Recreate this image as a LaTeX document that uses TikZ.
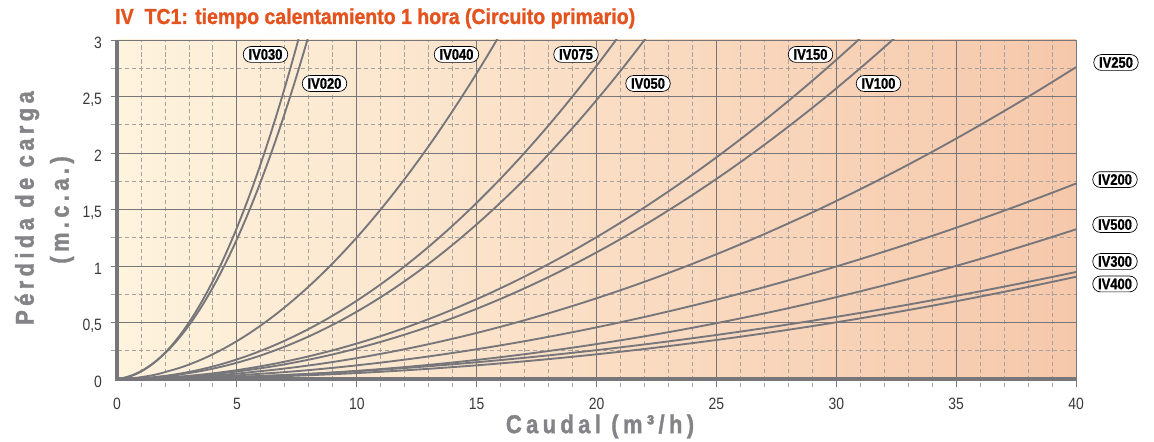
\documentclass[tikz,border=0pt]{standalone}
\usepackage{fontspec}
\setmainfont{Liberation Sans}
\newfontfamily\titlefont[FakeStretch=0.9,FakeBold=1.2]{Liberation Sans Bold}
\newfontfamily\narrowfont[FakeStretch=0.85]{Liberation Sans}
\newfontfamily\tagfont[FakeStretch=0.85,FakeBold=1]{Liberation Sans Bold}
\newfontfamily\spacedfont[FakeStretch=0.85,FakeBold=1.5,LetterSpace=17]{Liberation Sans Bold}

\definecolor{titleorange}{HTML}{E4531D}
\definecolor{axisgrey}{HTML}{77767B}
\definecolor{gridgrey}{HTML}{A8A19E}
\definecolor{labelgrey}{HTML}{848387}
\definecolor{tickgrey}{HTML}{3A3A3A}
\definecolor{creamleft}{HTML}{FEF3DD}
\definecolor{peachright}{HTML}{F6C8AB}

\tikzset{
  gridminor/.style={gridgrey, line width=0.7pt, dash pattern=on 3.5pt off 2.5pt},
  gridmajor/.style={axisgrey, line width=0.8pt},
  axisline/.style={axisgrey, line width=4pt, line join=miter},
  curve/.style={axisgrey, line width=1.6pt},
  ivtag/.style={draw=black, line width=0.6pt, fill=white, rounded corners=6.5pt,
    minimum height=13.5pt, inner xsep=4.5pt, inner ysep=0pt,
    font=\tagfont\fontsize{13}{13}\selectfont},
  ticklabel/.style={text=tickgrey, inner sep=0pt, font=\narrowfont\fontsize{14}{14}\selectfont},
  axistitle/.style={text=labelgrey, inner sep=0pt, font=\spacedfont\fontsize{22}{26}\selectfont},
}

\begin{document}
\begin{tikzpicture}[x=0.71925cm, y=3.39cm]
\useasboundingbox (-4.880,-0.5487) rectangle (43.253,3.354);

% background
\shade[left color=creamleft, right color=peachright] (0,0) rectangle (40,3);

% grid
\foreach \gx in {1,...,39}
  \draw[gridminor] (\gx,-0.07) -- (\gx,3);
\foreach \gy in {0.25,0.75,...,2.75}
  \draw[gridminor] (-0.26,\gy) -- (40,\gy);
\foreach \gx in {5,10,...,40}
  \draw[gridmajor] (\gx,-0.07) -- (\gx,3);
\foreach \gy in {0.5,1,...,3}
  \draw[gridmajor] (-0.26,\gy) -- (40,\gy);

% curves
\begin{scope}
  \clip (0,0) rectangle (40,3);
  \draw[curve] plot[smooth, domain=0.1:7.9, samples=50] (\x,{\x*(0.0505*\x+0.015)});
  \draw[curve] plot[smooth, domain=0.1:8.3, samples=50] (\x,{\x*(0.04446*\x+0.0249)});
  \draw[curve] plot[smooth, domain=0.1:16.2, samples=50] (\x,{3*(\x/15.84)^1.9});
  \draw[curve] plot[smooth, domain=0.1:21.2, samples=50] (\x,{3*(\x/20.81)^2});
  \draw[curve] plot[smooth, domain=0.1:22.4, samples=50] (\x,{3*(\x/22.0)^2.05});
  \draw[curve] plot[smooth, domain=0.1:31.3, samples=50] (\x,{3*(\x/30.92)^2});
  \draw[curve] plot[smooth, domain=0.1:32.7, samples=50] (\x,{3*(\x/32.34)^2.05});
  \draw[curve] plot[smooth, domain=0.1:40, samples=50] (\x,{2.76*(\x/40)^1.95});
  \draw[curve] plot[smooth, domain=0.1:40, samples=50] (\x,{1.73*(\x/40)^1.92});
  \draw[curve] plot[smooth, domain=0.1:40, samples=50] (\x,{1.325*(\x/40)^2.1});
  \draw[curve] plot[smooth, domain=0.1:40, samples=50] (\x,{0.947*(\x/40)^1.89});
  \draw[curve] plot[smooth, domain=0.1:40, samples=50] (\x,{0.905*(\x/40)^2.05});
\end{scope}

% axes
\draw[axisline] (0,3) -- (0,0) -- (40,0);

% tick labels
\foreach \gx in {0,5,...,40}
  \node[ticklabel, anchor=base] (xl\gx) at (\gx,-0.2655) {\gx};
\node[ticklabel, anchor=east, yshift=-2.5pt] (yl0) at (-0.62,0) {0};
\node[ticklabel, anchor=east, yshift=-2.5pt] (yl05) at (-0.62,0.5) {0,5};
\node[ticklabel, anchor=east, yshift=-2.5pt] (yl1) at (-0.62,1) {1};
\node[ticklabel, anchor=east, yshift=-2.5pt] (yl15) at (-0.62,1.5) {1,5};
\node[ticklabel, anchor=east, yshift=-2.5pt] (yl2) at (-0.62,2) {2};
\node[ticklabel, anchor=east, yshift=-2.5pt] (yl25) at (-0.62,2.5) {2,5};
\node[ticklabel, anchor=east, yshift=-2.5pt] (yl3) at (-0.62,3) {3};

% titles
\node[anchor=base west, inner sep=0pt, text=titleorange,
  font=\titlefont\fontsize{18.5}{20}\selectfont] (title) at (-0.08,3.1416)
  {IV\ \ TC1: tiempo calentamiento 1 hora (Circuito primario)};
\node[axistitle] (caudal) at (20.146,-0.42) {Caudal (m³/h)};
\node[axistitle, rotate=90] (perdida) at (-3.754,1.513) {Pérdida de carga};
\node[axistitle, rotate=90] (mca) at (-2.294,1.496) {(m.c.a.)};

% curve tags
\node[ivtag] (iv030) at (6.194,2.872) {IV030};
\node[ivtag] (iv020) at (8.655,2.615) {IV020};
\node[ivtag] (iv040) at (14.161,2.872) {IV040};
\node[ivtag] (iv075) at (19.145,2.872) {IV075};
\node[ivtag] (iv050) at (22.148,2.615) {IV050};
\node[ivtag] (iv150) at (28.926,2.872) {IV150};
\node[ivtag] (iv100) at (31.762,2.615) {IV100};
\node[ivtag] (iv250) at (41.668,2.801) {IV250};
\node[ivtag] (iv200) at (41.626,1.765) {IV200};
\node[ivtag] (iv500) at (41.626,1.367) {IV500};
\node[ivtag] (iv300) at (41.626,1.04) {IV300};
\node[ivtag] (iv400) at (41.626,0.841) {IV400};
\end{tikzpicture}
\end{document}
